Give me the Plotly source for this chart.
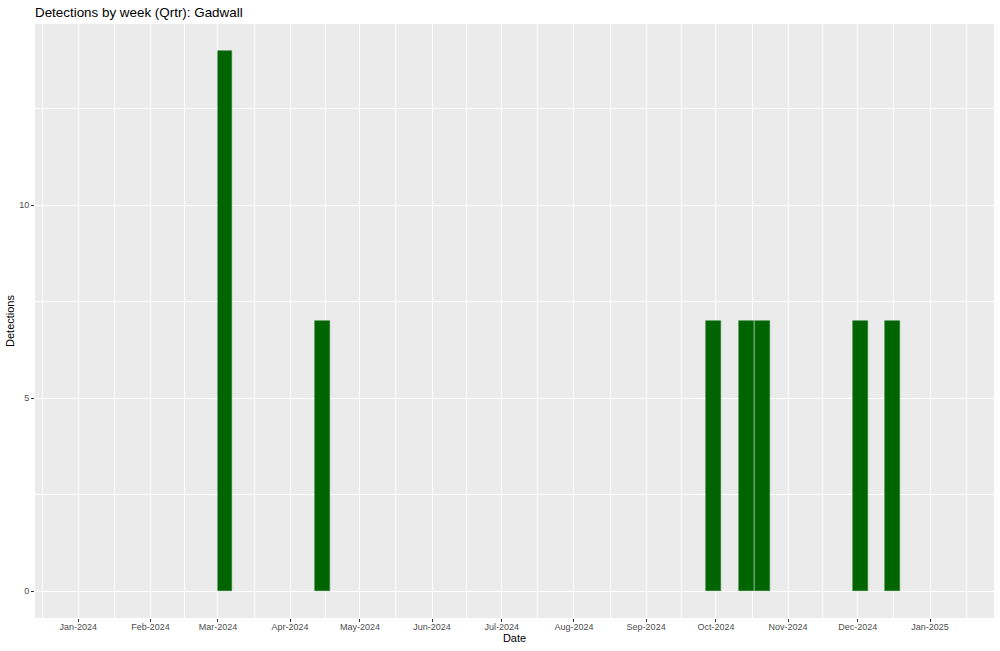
import plotly.graph_objects as go
import pandas as pd

# Data
week_start = ["2024-03-04", "2024-04-15", "2024-09-30", "2024-10-14", "2024-10-21", "2024-12-02", "2024-12-16"]
detections = [14, 7, 7, 7, 7, 7, 7]

month_breaks = pd.date_range("2023-12-01", "2025-02-01", freq="MS")
x_range = ["2023-12-13 09:00", "2025-01-28 12:00"]

# minor gridlines at midpoints between month breaks (ggplot style)
minor_x = [(month_breaks[i] + (month_breaks[i + 1] - month_breaks[i]) / 2) for i in range(len(month_breaks) - 1)]

bar_width_ms = 0.9 * 7 * 24 * 3600 * 1000

fig = go.Figure()
fig.add_trace(go.Bar(
    x=pd.to_datetime(week_start), y=detections,
    width=[bar_width_ms] * len(week_start),
    marker=dict(color="#006400", line=dict(color="#2E7D32", width=0.6)),
    hoverinfo="x+y",
))

font_fam = "Liberation Sans, Arial, sans-serif"
fig.update_layout(
    width=1000, height=651,
    margin=dict(l=35, r=6, t=24, b=33),
    paper_bgcolor="white", plot_bgcolor="#EBEBEB",
    font=dict(family=font_fam, color="#000000"),
    showlegend=False,
    bargap=0,
    title=dict(text="Detections by week (Qrtr): Gadwall", x=35 / 1000, xanchor="left",
               xref="container", y=1 - 12.5 / 651, yanchor="middle", yref="container",
               font=dict(size=13.4, color="black", family=font_fam)),
)
fig.update_xaxes(
    type="date", range=x_range,
    tickmode="array", tickvals=list(month_breaks), ticktext=[d.strftime("%b-%Y") for d in month_breaks],
    tickfont=dict(size=9, color="#4D4D4D"),
    ticks="outside", ticklen=3, tickcolor="#333333", tickwidth=1,
    ticklabelstandoff=-3,
    showgrid=True, gridcolor="white", gridwidth=1.1,
    minor=dict(tickmode="array", tickvals=minor_x, showgrid=True, gridcolor="white", gridwidth=0.55, ticks=""),
    zeroline=False, showline=False, automargin=False,
    title=dict(text="Date", font=dict(size=11, color="black"), standoff=1),
)
fig.update_yaxes(
    range=[-0.7, 14.7],
    tickmode="array", tickvals=[0, 5, 10], ticktext=["0", "5", "10"],
    tickfont=dict(size=9, color="#4D4D4D"),
    ticks="outside", ticklen=3, tickcolor="#333333", tickwidth=1,
    showgrid=True, gridcolor="white", gridwidth=1.1,
    minor=dict(tickmode="array", tickvals=[2.5, 7.5, 12.5], showgrid=True, gridcolor="white", gridwidth=0.55, ticks=""),
    zeroline=False, showline=False, automargin=False,
    title=dict(text="Detections", font=dict(size=11, color="black"), standoff=2),
)

fig.write_html("out.html", config={"displayModeBar": False},
               post_script="document.body.style.margin='0';document.body.style.overflow='hidden';")
